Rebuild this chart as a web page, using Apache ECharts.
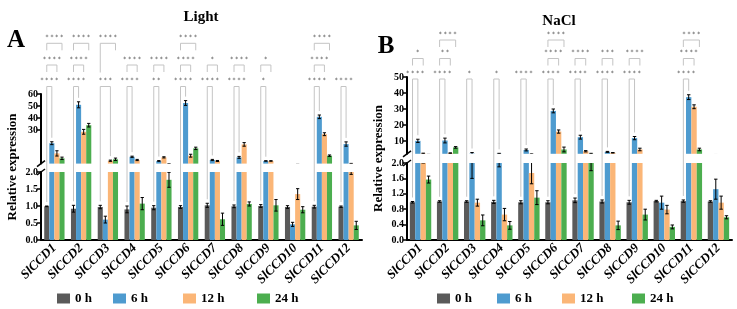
<!DOCTYPE html>
<html>
<head>
<meta charset="utf-8">
<script src="https://cdn.jsdelivr.net/npm/echarts@6.0.0/dist/echarts.min.js"></script>
<style>
  html, body { margin: 0; padding: 0; background: #fff; }
  #chart { width: 737px; height: 309px; }
</style>
</head>
<body>
<div id="chart"></div>
<script>
const categories = ['SlCCD1', 'SlCCD2', 'SlCCD3', 'SlCCD4', 'SlCCD5', 'SlCCD6',
                    'SlCCD7', 'SlCCD8', 'SlCCD9', 'SlCCD10', 'SlCCD11', 'SlCCD12'];
const timePoints = ['0 h', '6 h', '12 h', '24 h'];

// Light treatment (mean, SD)
const light0h  = [0.99, 0.92, 0.97, 0.90, 0.95, 0.97, 1.02, 0.99, 1.00, 0.97, 0.98, 0.98];
const light6h  = [19.0, 51.0, 0.60, 7.7, 4.2, 52.5, 5.0, 7.2, 4.2, 0.46, 41.0, 18.3];
const light12h = [10.5, 28.5, 4.4, 5.0, 7.2, 8.6, 4.2, 18.0, 4.2, 1.35, 26.5, 2.05];
const light24h = [6.4, 34.0, 5.6, 1.07, 1.77, 14.7, 0.61, 1.06, 1.02, 0.89, 8.6, 0.43];
const lightErr0h  = [0.01, 0.10, 0.05, 0.10, 0.06, 0.04, 0.06, 0.04, 0.04, 0.04, 0.04, 0.02];
const lightErr6h  = [1.2, 2.5, 0.10, 0.5, 0.3, 2.0, 0.5, 0.8, 0.2, 0.06, 1.5, 1.8];
const lightErr12h = [2.2, 2.0, 0.5, 0.5, 0.5, 1.2, 0.4, 1.5, 0.2, 0.16, 1.2, 0.12];
const lightErr24h = [1.0, 1.5, 1.0, 0.18, 0.22, 1.0, 0.18, 0.06, 0.17, 0.09, 0.6, 0.12];

// NaCl treatment (mean, SD)
const nacl0h  = [0.98, 1.00, 1.00, 0.99, 0.98, 0.98, 1.03, 1.00, 0.98, 1.01, 1.01, 1.00];
const nacl6h  = [10.1, 10.3, 2.2, 2.1, 4.4, 28.8, 12.4, 3.2, 11.8, 0.97, 37.4, 1.32];
const nacl12h = [2.2, 2.4, 0.97, 0.66, 1.74, 15.9, 3.6, 2.6, 4.7, 0.79, 31.4, 0.97];
const nacl24h = [1.57, 6.0, 0.51, 0.38, 1.10, 4.7, 2.05, 0.38, 0.66, 0.34, 4.7, 0.59];
const naclErr0h  = [0.02, 0.02, 0.02, 0.04, 0.04, 0.04, 0.06, 0.04, 0.05, 0.02, 0.03, 0.02];
const naclErr6h  = [1.0, 1.5, 0.6, 0.2, 0.6, 1.2, 1.2, 0.3, 1.0, 0.17, 1.5, 0.26];
const naclErr12h = [0.2, 0.2, 0.09, 0.16, 0.28, 1.0, 0.4, 0.2, 0.8, 0.11, 1.2, 0.17];
const naclErr24h = [0.09, 0.5, 0.14, 0.1, 0.18, 1.5, 0.25, 0.11, 0.14, 0.05, 0.8, 0.04];

// significance vs 0 h: [gene index, time index, row, label]
const lightSig = [
  [0, 1, 0, '****'], [0, 2, 1, '****'], [0, 3, 2, '****'],
  [1, 1, 0, '****'], [1, 2, 1, '****'], [1, 3, 2, '****'],
  [2, 2, 0, '***'], [2, 3, 2, '****'],
  [3, 1, 0, '****'], [3, 2, 1, '****'],
  [4, 1, 0, '**'], [4, 2, 1, '****'],
  [5, 1, 0, '****'], [5, 2, 1, '****'], [5, 3, 2, '****'],
  [6, 1, 0, '****'], [6, 2, 1, '*'],
  [7, 1, 0, '****'], [7, 2, 1, '****'],
  [8, 1, 0, '*'], [8, 2, 1, '*'],
  [10, 1, 0, '****'], [10, 2, 1, '****'], [10, 3, 2, '****'],
  [11, 1, 0, '****']
];
const naclSig = [
  [0, 1, 0, '****'], [0, 2, 1, '*'],
  [1, 1, 0, '****'], [1, 2, 1, '**'], [1, 3, 2, '****'],
  [2, 1, 0, '*'],
  [3, 1, 0, '*'],
  [4, 1, 0, '****'],
  [5, 1, 0, '****'], [5, 2, 1, '****'], [5, 3, 2, '****'],
  [6, 1, 0, '****'], [6, 2, 1, '****'],
  [7, 1, 0, '****'], [7, 2, 1, '***'],
  [8, 1, 0, '****'], [8, 2, 1, '****'],
  [10, 1, 0, '****'], [10, 2, 1, '****'], [10, 3, 2, '****']
];

// axis ticks
const lightUpperTicks = [30, 40, 50, 60];
const naclUpperTicks = [10, 20, 30, 40, 50];
const breakValue = 2;

const colors = ['#5a5a5a', '#4e9bcf', '#fbb677', '#4cae4f'];
const serif = 'Liberation Serif';

const panels = [
  {
    title: 'Light', letter: 'A', titleX: 196, titleY: 12, letterX: 16, letterY: 41,
    means: [light0h, light6h, light12h, light24h],
    errs: [lightErr0h, lightErr6h, lightErr12h, lightErr24h],
    sig: lightSig,
    left: 41, width: 321, upTop: 94, upHeight: 69.6, upMax: 60, upTicks: lightUpperTicks,
    lowTop: 172, lowHeight: 68, lowInterval: 0.5, catGap: '24%',
    rows: [86.5, 65, 43.3], nameX: 13, legendX: [57, 113, 183, 257]
  },
  {
    title: 'NaCl', letter: 'B', titleX: 554, titleY: 16, letterX: 386, letterY: 47,
    means: [nacl0h, nacl6h, nacl12h, nacl24h],
    errs: [naclErr0h, naclErr6h, naclErr12h, naclErr24h],
    sig: naclSig,
    left: 407, width: 325, upTop: 77, upHeight: 76.8, upMax: 50, upTicks: naclUpperTicks,
    lowTop: 163, lowHeight: 77, lowInterval: 0.4, catGap: '21%',
    rows: [79, 58.5, 40], nameX: 379, legendX: [437, 497, 562, 632]
  }
];

const chart = echarts.init(document.getElementById('chart'));

function gapFraction(p) {
  return parseFloat(p.catGap) / 100;
}

function errorRenderer(p) {
  const gap = gapFraction(p);
  return function (params, api) {
    const cat = api.value(0), t = api.value(1), v = api.value(2), e = api.value(3);
    const band = api.size([1, 0])[0];
    const bw = band * (1 - gap) / 4;
    const c = api.coord([cat, v]);
    const x = c[0] + (t - 1.5) * bw;
    const hi = api.coord([cat, v + e])[1];
    const lo = api.coord([cat, v - e])[1];
    const cap = bw * 0.32;
    const st = { stroke: '#000', lineWidth: 1 };
    return {
      type: 'group',
      children: [
        { type: 'line', shape: { x1: x, y1: hi, x2: x, y2: lo }, style: st },
        { type: 'line', shape: { x1: x - cap, y1: hi, x2: x + cap, y2: hi }, style: st },
        { type: 'line', shape: { x1: x - cap, y1: lo, x2: x + cap, y2: lo }, style: st }
      ]
    };
  };
}

const grid = [], xAxis = [], yAxis = [], series = [], title = [], legend = [];

panels.forEach((p, pi) => {
  const gu = pi * 2, gl = pi * 2 + 1;
  grid.push({ left: p.left, top: p.upTop, width: p.width, height: p.upHeight, outerBoundsMode: 'none' });
  grid.push({ left: p.left, top: p.lowTop, width: p.width, height: p.lowHeight, outerBoundsMode: 'none' });

  xAxis.push({ type: 'category', gridIndex: gu, data: categories, show: false });
  xAxis.push({
    type: 'category', gridIndex: gl, data: categories,
    axisLine: { lineStyle: { color: '#000', width: 2 } },
    axisTick: { alignWithLabel: true, length: 4, lineStyle: { color: '#000', width: 1.5 } },
    axisLabel: {
      interval: 0, rotate: 45, margin: 6, color: '#000',
      fontFamily: serif, fontStyle: 'italic', fontWeight: 'bold', fontSize: 13
    }
  });

  const yLabel = { color: '#000', fontFamily: serif, fontWeight: 'bold', fontSize: 10, margin: 3 };
  yAxis.push({
    type: 'value', gridIndex: gu, min: breakValue, max: p.upMax,
    axisLine: { show: true, lineStyle: { color: '#000', width: 2 } },
    axisTick: { show: true, length: 4, customValues: p.upTicks, lineStyle: { color: '#000', width: 1.5 } },
    axisLabel: Object.assign({ customValues: p.upTicks }, yLabel),
    splitLine: { show: false }
  });
  yAxis.push({
    type: 'value', gridIndex: gl, min: 0, max: breakValue, interval: p.lowInterval,
    axisLine: { show: true, lineStyle: { color: '#000', width: 2 } },
    axisTick: { show: true, length: 4, lineStyle: { color: '#000', width: 1.5 } },
    axisLabel: Object.assign({ formatter: v => v.toFixed(1) }, yLabel),
    splitLine: { show: false }
  });

  p.means.forEach((arr, t) => {
    series.push({
      type: 'bar', name: timePoints[t], xAxisIndex: gu, yAxisIndex: gu,
      data: arr.map(v => (v > breakValue ? v : '-')),
      barGap: '0%', barCategoryGap: p.catGap, clip: true,
      itemStyle: { color: colors[t] }
    });
    series.push({
      type: 'bar', name: timePoints[t], xAxisIndex: gl, yAxisIndex: gl,
      data: arr, barGap: '0%', barCategoryGap: p.catGap, clip: true,
      itemStyle: { color: colors[t] }
    });
  });

  const errData = [];
  p.means.forEach((arr, t) => arr.forEach((v, i) => errData.push([i, t, v, p.errs[t][i]])));
  [gu, gl].forEach(g => {
    series.push({
      type: 'custom', xAxisIndex: g, yAxisIndex: g, clip: true, z: 5,
      renderItem: errorRenderer(p),
      encode: { x: 0, y: 2 },
      data: errData
    });
  });

  title.push({
    text: p.title, left: p.titleX, top: p.titleY, textAlign: 'center', textVerticalAlign: 'middle',
    textStyle: { fontFamily: serif, fontWeight: 'bold', fontSize: 15, color: '#000' }
  });

  timePoints.forEach((name, t) => {
    legend.push({
      data: [name], left: p.legendX[t], top: 292, padding: 0,
      itemWidth: 13, itemHeight: 10, icon: 'rect',
      textStyle: { fontFamily: serif, fontWeight: 'bold', fontSize: 13, color: '#000' }
    });
  });
});

chart.setOption({
  animation: false,
  grid, xAxis, yAxis, series, title, legend
});

// significance brackets, axis breaks, labels placed with the chart's own scales
const elements = [];
panels.forEach((p, pi) => {
  const gu = pi * 2, gl = pi * 2 + 1;
  const gap = gapFraction(p);
  const c0 = chart.convertToPixel({ gridIndex: gl }, [0, 0]);
  const c1 = chart.convertToPixel({ gridIndex: gl }, [1, 0]);
  const band = c1[0] - c0[0];
  const bw = band * (1 - gap) / 4;
  const barX = (cat, t) => chart.convertToPixel({ gridIndex: gl }, [cat, 0])[0] + (t - 1.5) * bw;
  const valueY = v => v > breakValue
    ? chart.convertToPixel({ gridIndex: gu }, [0, v])[1]
    : chart.convertToPixel({ gridIndex: gl }, [0, v])[1];

  p.sig.forEach(([cat, t, row, label]) => {
    const xl = barX(cat, 0), xr = barX(cat, t);
    const y = p.rows[row];
    let yl, yr;
    if (row === 0) {
      yl = valueY(p.means[0][cat] + p.errs[0][cat]) - 4;
      yr = valueY(p.means[t][cat] + p.errs[t][cat]) - 4;
    } else {
      const below = p.sig.some(s => s[0] === cat && s[2] === row - 1);
      yr = y + 7;
      yl = below ? y + 7 : p.rows[0] - 14;
    }
    elements.push({
      type: 'polyline', silent: true,
      shape: { points: [[xl, yl], [xl, y], [xr, y], [xr, yr]] },
      style: { stroke: '#c4c4c4', lineWidth: 1, fill: null }
    });
    elements.push({
      type: 'text', silent: true, x: (xl + xr) / 2, y: y - 3,
      style: {
        text: label.split('').join(' '), fill: '#444', fontSize: 6,
        fontFamily: 'DejaVu Sans', align: 'center', verticalAlign: 'bottom'
      }
    });
  });

  // axis break marks
  const ax = p.left;
  const yb = chart.convertToPixel({ gridIndex: gu }, [0, breakValue])[1];
  const yt = chart.convertToPixel({ gridIndex: gl }, [0, breakValue])[1];
  [yb, yt].forEach(yy => {
    elements.push({
      type: 'line', silent: true,
      shape: { x1: ax - 4, y1: yy + 3, x2: ax + 4, y2: yy - 3 },
      style: { stroke: '#000', lineWidth: 1.5 }
    });
  });

  // y axis name
  const top = chart.convertToPixel({ gridIndex: gu }, [0, p.upMax])[1];
  const bottom = chart.convertToPixel({ gridIndex: gl }, [0, 0])[1];
  elements.push({
    type: 'text', silent: true, x: p.nameX, y: (top + bottom) / 2, rotation: Math.PI / 2,
    style: {
      text: 'Relative expression', fill: '#000', fontSize: 13, fontWeight: 'bold',
      fontFamily: serif, align: 'center', verticalAlign: 'middle'
    }
  });

  // panel letter
  elements.push({
    type: 'text', silent: true, x: p.letterX, y: p.letterY,
    style: {
      text: p.letter, fill: '#000', fontSize: 25, fontWeight: 'bold',
      fontFamily: serif, align: 'center', verticalAlign: 'middle'
    }
  });
});

chart.setOption({ graphic: { elements } });
</script>
</body>
</html>
